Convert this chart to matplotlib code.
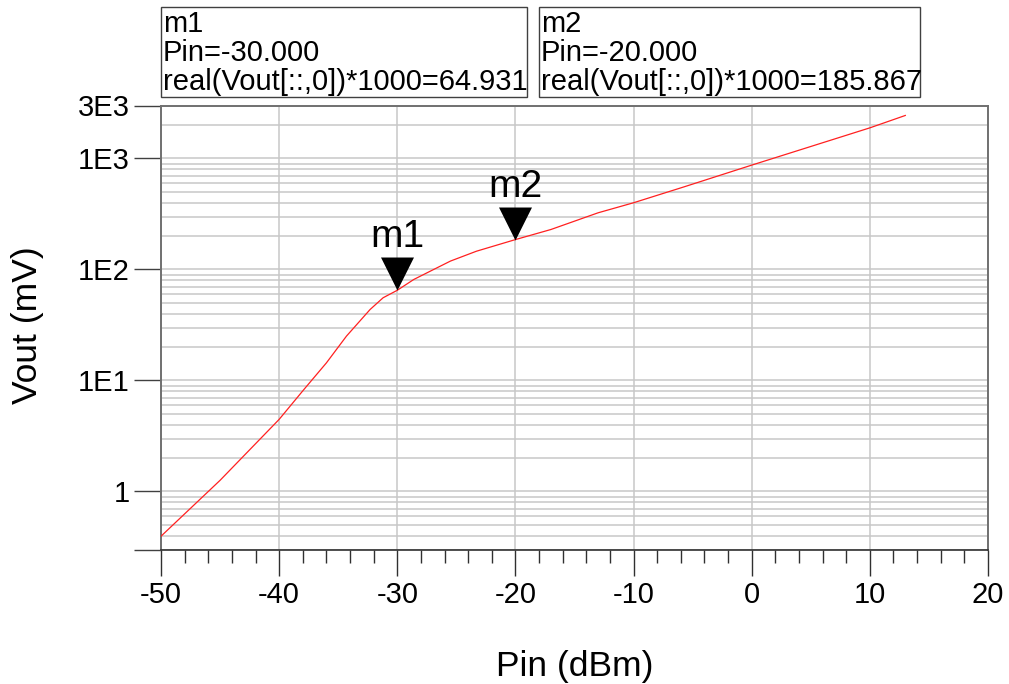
import numpy as np
import matplotlib.pyplot as plt
from matplotlib.patches import Rectangle
from matplotlib.ticker import LogLocator, MultipleLocator, NullFormatter

plt.rcParams['font.family'] = ['Liberation Sans', 'DejaVu Sans']

# detector output vs input power
pin_dbm = [-50, -45, -40, -37.9, -36, -34.3, -32.3, -31.2, -30, -28.6, -27.2,
           -25.5, -23.3, -20, -17, -13, -10, -5.7, 0, 4.2, 10, 13]
vout_mv = [0.395, 1.26, 4.46, 8.3, 14.4, 25.1, 43.6, 55.6, 64.931, 81.3, 96.6,
           119, 146, 185.867, 229, 324, 399, 556, 871, 1205, 1887, 2440]

marker_names = ['m1', 'm2']
marker_pin = [-30.0, -20.0]
marker_vout = [64.931, 185.867]

ytick_vals = [0.3, 1, 10, 100, 1000, 3000]
ytick_text = ['', '1', '1E1', '1E2', '1E3', '3E3']
xtick_vals = list(range(-50, 21, 10))

W, H = 1009, 684
fig = plt.figure(figsize=(W / 100, H / 100), dpi=100)
ax = fig.add_axes([161 / W, 1 - 549.5 / H, (988 - 161) / W, (549.5 - 105.5) / H])
ax.set_yscale('log')
ax.set_xlim(-50, 20)
ax.set_ylim(0.3, 3000)

ax.plot(pin_dbm, vout_mv, color='#ff2020', lw=0.9, zorder=3)

# ticks and grid
ax.set_xticks(xtick_vals)
ax.set_xticklabels([str(v) for v in xtick_vals])
ax.xaxis.set_minor_locator(MultipleLocator(2))
ax.set_yticks(ytick_vals)
ax.set_yticklabels(ytick_text)
ax.yaxis.set_minor_locator(LogLocator(base=10, subs=np.arange(2, 10)))
ax.yaxis.set_minor_formatter(NullFormatter())

grid_kw = dict(color='#c8c8c8', lw=1.1)
ax.grid(True, which='major', axis='x', **grid_kw)
ax.grid(True, which='both', axis='y', **grid_kw)
ax.set_axisbelow(True)

ax.tick_params(axis='y', which='major', direction='out', length=19.4, width=1,
               color='#404040', pad=3, labelsize=21)
ax.tick_params(axis='y', which='minor', length=0)
ax.tick_params(axis='x', which='major', direction='out', length=18.7, width=1,
               color='#303030', pad=4, labelsize=21)
ax.tick_params(axis='x', which='minor', direction='out', length=9.4, width=1,
               color='#303030')

for side in ['left', 'top', 'right']:
    ax.spines[side].set_color('#707070')
    ax.spines[side].set_linewidth(1.4)
ax.spines['bottom'].set_color('#303030')
ax.spines['bottom'].set_linewidth(1.2)

fig.text(575 / W, 1 - 676 / H, 'Pin (dBm)', ha='center', va='baseline', fontsize=25.5)
fig.text(28 / W, 1 - 325 / H, 'Vout (mV)', ha='center', va='center',
         rotation=90, fontsize=25.5)

# marker triangles, apex on the data point
tri = [(-0.5, 1), (0.5, 1), (0, 0), (-0.5, 1)]
ax.plot(marker_pin, marker_vout, ls='none', marker=tri, ms=47.5, mew=0,
        color='black', zorder=4, clip_on=False)
for name, x, y in zip(marker_names, marker_pin, marker_vout):
    ax.annotate(name, (x, y), xytext=(0, 31), textcoords='offset points',
                ha='center', va='baseline', fontsize=28)

# marker readout boxes
box_left = [160.5, 538.5]
box_right = [526.5, 919.5]
for name, x, y, bl, br in zip(marker_names, marker_pin, marker_vout, box_left, box_right):
    fig.add_artist(Rectangle((bl / W, 1 - 97 / H), (br - bl) / W, 90.5 / H,
                             transform=fig.transFigure, fill=False,
                             ec='#404040', lw=1))
    lines = [name, f'Pin={x:.3f}', f'real(Vout[::,0])*1000={y:.3f}']
    for i, line in enumerate(lines):
        fig.text((bl + 2.5) / W, 1 - (32 + 29 * i) / H, line,
                 ha='left', va='baseline', fontsize=21)

fig.savefig('out.png', dpi=100)
